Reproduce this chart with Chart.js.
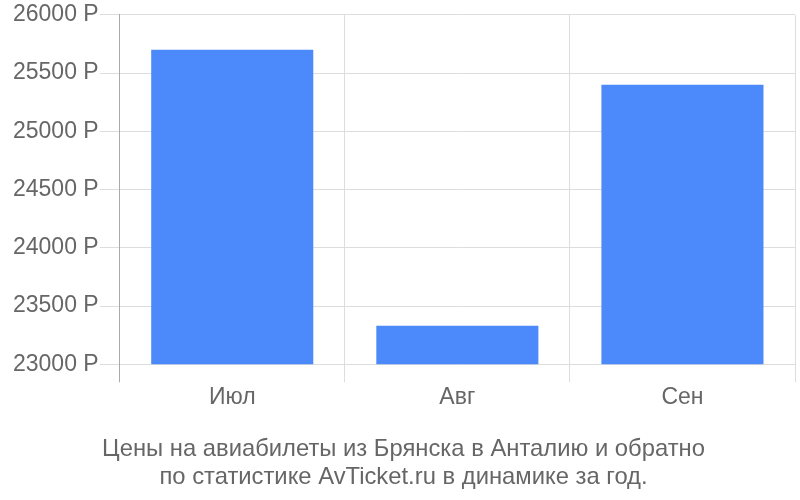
<!DOCTYPE html>
<html>
<head>
<meta charset="utf-8">
<script src="https://cdn.jsdelivr.net/npm/chart.js@4"></script>
<style>
  html, body { margin: 0; padding: 0; background: #fff; }
  #wrap { width: 800px; height: 500px; }
</style>
</head>
<body>
<div id="wrap"><canvas id="priceChart"></canvas></div>
<script>
// Data
const months = ['Июл', 'Авг', 'Сен'];
const prices = [25700, 23330, 25400];
const titleLines = ['Цены на авиабилеты из Брянска в Анталию и обратно', 'по статистике AvTicket.ru в динамике за год.'];

const ctx = document.getElementById('priceChart').getContext('2d');

const chart = new Chart(ctx, {
    type: 'bar',
    data: {
        labels: months,
        datasets: [{
            data: prices,
            backgroundColor: '#4c89fa',
            borderWidth: 0
        }]
    },
    options: {
        responsive: true,
        maintainAspectRatio: false,
        animation: false,
        layout: {
            padding: { top: 2, right: 5, left: 12, bottom: 8 }
        },
        plugins: {
            legend: { display: false },
            tooltip: { enabled: false },
            title: {
                display: true,
                position: 'bottom',
                text: titleLines,
                color: '#666',
                font: { family: 'Liberation Sans', size: 23.8, weight: 'normal', lineHeight: 1.2 },
                padding: { top: 21, bottom: 0 }
            }
        },
        scales: {
            x: {
                grid: {
                    offset: true,
                    color: (c) => c.index === 0 ? '#aaa' : '#ddd',
                    tickLength: 18
                },
                border: { color: '#ddd' },
                ticks: {
                    color: '#666',
                    padding: 2,
                    font: { family: 'Liberation Sans', size: 23 }
                }
            },
            y: {
                min: 23000,
                max: 26000,
                grid: {
                    color: '#ddd',
                    tickLength: 20
                },
                border: { color: '#aaa' },
                ticks: {
                    stepSize: 500,
                    color: '#666',
                    padding: 1,
                    font: { family: 'Liberation Sans', size: 23 },
                    callback: (v) => v + ' Р'
                }
            }
        }
    }
});
</script>
</body>
</html>
